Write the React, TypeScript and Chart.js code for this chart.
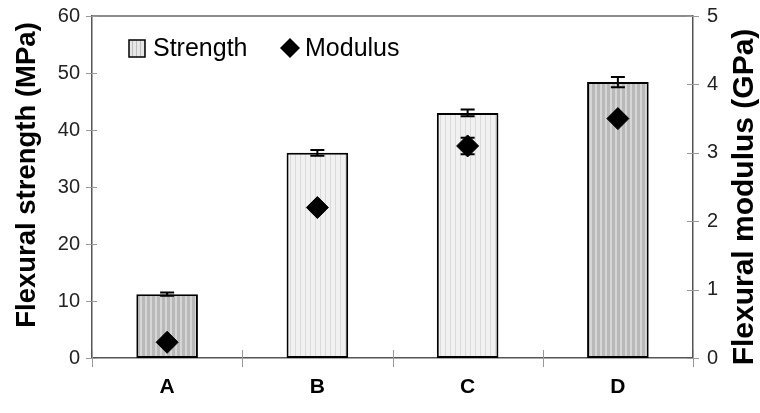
import React, { useEffect, useRef } from 'react';
import { Chart, registerables } from 'chart.js';
Chart.register(...registerables);

const categories = ['A', 'B', 'C', 'D'];
const strength = [11.2, 36.0, 43.0, 48.4];
const strengthErr = [0.3, 0.5, 0.6, 0.9];
const modulus = [0.23, 2.2, 3.1, 3.5];
const modulusErr = [0.03, 0.03, 0.12, 0.03];
const barShades = ['dark', 'light', 'light', 'dark'];
const leftMax = 60;
const leftStep = 10;
const rightMax = 5;
const rightStep = 1;
const legendLabels = ['Strength', 'Modulus'];
const leftTitle = 'Flexural strength (MPa)';
const rightTitle = 'Flexural modulus (GPa)';

const FONT = '"Liberation Sans", Arial, sans-serif';

function makePattern(base: string, stripe: string, period: number, sw: number) {
  const c = document.createElement('canvas');
  c.width = period;
  c.height = 8;
  const ctx = c.getContext('2d')!;
  ctx.fillStyle = base;
  ctx.fillRect(0, 0, period, 8);
  ctx.fillStyle = stripe;
  ctx.fillRect(0, 0, sw, 8);
  return ctx.createPattern(c, 'repeat') as CanvasPattern;
}

const fitV = (w: number) => (s: any) => {
  s.width = w;
  s.paddingTop = 0;
  s.paddingBottom = 0;
};

export default function App() {
  const ref = useRef<HTMLCanvasElement>(null);
  useEffect(() => {
    const dark = makePattern('#b9b9b9', '#d6d6d6', 5, 2);
    const light = makePattern('#f1f1f1', '#dadada', 5, 1);
    const mid = makePattern('#e6e6e6', '#bdbdbd', 4, 1);

    const decor = {
      id: 'decor',
      afterDatasetsDraw(chart: any) {
        const ctx = chart.ctx;
        const x = chart.scales.x;
        const y = chart.scales.y;
        const y1 = chart.scales.y1;
        ctx.save();
        ctx.strokeStyle = '#000';
        ctx.lineWidth = 2;
        const drawErr = (cx: number, v: number, e: number, sc: any) => {
          const top = sc.getPixelForValue(v + e);
          const bot = sc.getPixelForValue(v - e);
          const hw = 7;
          ctx.beginPath();
          ctx.moveTo(cx, top);
          ctx.lineTo(cx, bot);
          ctx.moveTo(cx - hw, top);
          ctx.lineTo(cx + hw, top);
          ctx.moveTo(cx - hw, bot);
          ctx.lineTo(cx + hw, bot);
          ctx.stroke();
        };
        categories.forEach((_, i) => {
          const cx = x.getPixelForValue(i);
          drawErr(cx, strength[i], strengthErr[i], y);
          drawErr(cx, modulus[i], modulusErr[i], y1);
        });
        ctx.restore();
      },
      afterDraw(chart: any) {
        const ctx = chart.ctx;
        const ca = chart.chartArea;
        const x = chart.scales.x;
        const y = chart.scales.y;
        const y1 = chart.scales.y1;
        ctx.save();
        ctx.strokeStyle = '#666';
        ctx.lineWidth = 1.5;
        ctx.beginPath();
        ctx.moveTo(ca.left, ca.top);
        ctx.lineTo(ca.right, ca.top);
        ctx.stroke();
        ctx.strokeStyle = '#999';
        ctx.lineWidth = 1;
        ctx.beginPath();
        for (let v = 0; v <= leftMax; v += leftStep) {
          const py = Math.round(y.getPixelForValue(v)) + 0.5;
          ctx.moveTo(ca.left - 6, py);
          ctx.lineTo(ca.left + 5, py);
        }
        for (let v = 0; v <= rightMax; v += rightStep) {
          const py = Math.round(y1.getPixelForValue(v)) + 0.5;
          ctx.moveTo(ca.right - 6, py);
          ctx.lineTo(ca.right + 6, py);
        }
        const n = categories.length;
        for (let i = 0; i <= n; i++) {
          const px = Math.round(x.left + (i * (x.right - x.left)) / n) + 0.5;
          ctx.moveTo(px, ca.bottom - 8);
          ctx.lineTo(px, ca.bottom + 9);
        }
        ctx.stroke();
        ctx.fillStyle = '#000';
        ctx.textAlign = 'center';
        ctx.textBaseline = 'middle';
        ctx.save();
        ctx.translate(ca.left - 65, ca.top + 159);
        ctx.rotate(-Math.PI / 2);
        ctx.font = `bold 27.5px ${FONT}`;
        ctx.fillText(leftTitle, 0, 0);
        ctx.restore();
        ctx.save();
        ctx.translate(ca.right + 52, ca.top + 181);
        ctx.rotate(-Math.PI / 2);
        ctx.font = `bold 30px ${FONT}`;
        ctx.fillText(rightTitle, 0, 0);
        ctx.restore();
        const lx = ca.left + 37;
        const ly = ca.top + 32;
        ctx.fillStyle = mid;
        ctx.fillRect(lx, ly - 8, 16, 17);
        ctx.strokeStyle = '#000';
        ctx.lineWidth = 1.5;
        ctx.strokeRect(lx, ly - 8, 16, 17);
        ctx.fillStyle = '#000';
        ctx.font = `25px ${FONT}`;
        ctx.textBaseline = 'middle';
        ctx.textAlign = 'left';
        ctx.fillText(legendLabels[0], lx + 24, ly + 1);
        const dx = lx + 161;
        ctx.beginPath();
        ctx.moveTo(dx, ly - 10);
        ctx.lineTo(dx + 10, ly);
        ctx.lineTo(dx, ly + 10);
        ctx.lineTo(dx - 10, ly);
        ctx.closePath();
        ctx.fill();
        ctx.fillText(legendLabels[1], dx + 15, ly + 1);
        ctx.restore();
      },
    };

    const chart = new Chart(ref.current!, {
      type: 'bar',
      data: {
        labels: categories,
        datasets: [
          {
            type: 'line',
            label: legendLabels[1],
            data: modulus,
            yAxisID: 'y1',
            showLine: false,
            pointStyle: 'rectRot',
            pointRadius: 11,
            pointBackgroundColor: '#000',
            pointBorderColor: '#000',
            order: 0,
          } as any,
          {
            type: 'bar',
            label: legendLabels[0],
            data: strength,
            yAxisID: 'y',
            backgroundColor: barShades.map((s) => (s === 'dark' ? dark : light)),
            borderColor: '#000',
            borderWidth: 2,
            borderSkipped: false,
            barPercentage: 0.41,
            categoryPercentage: 1,
            order: 1,
          },
        ],
      },
      options: {
        animation: false,
        responsive: false,
        layout: { padding: { top: 16, left: 0, right: 0, bottom: 0 } },
        plugins: { legend: { display: false }, tooltip: { enabled: false } },
        scales: {
          x: {
            grid: { display: false, drawTicks: false },
            border: { display: true, color: '#555', width: 1.5 },
            ticks: { padding: 17, color: '#000', font: { family: FONT, size: 21, weight: 'bold' } },
            afterFit: (s: any) => { s.height = 55; s.paddingLeft = 0; s.paddingRight = 0; },
          },
          y: {
            position: 'left',
            min: 0,
            max: leftMax,
            grid: { display: false, drawTicks: false },
            border: { display: true, color: '#555', width: 1.5 },
            ticks: { stepSize: leftStep, padding: 12, color: '#222', font: { family: FONT, size: 20 } },
            afterFit: fitV(92),
          },
          y1: {
            position: 'right',
            min: 0,
            max: rightMax,
            grid: { display: false, drawTicks: false },
            border: { display: true, color: '#555', width: 1.5 },
            ticks: { stepSize: rightStep, padding: 14, color: '#222', font: { family: FONT, size: 20 } },
            afterFit: fitV(67),
          },
        },
      },
      plugins: [decor],
    });
    return () => chart.destroy();
  }, []);
  return (
    <div style={{ position: 'fixed', left: 0, top: 0, width: 760, height: 413, background: '#fff' }}>
      <canvas ref={ref} width={760} height={413} style={{ width: 760, height: 413 }} />
    </div>
  );
}
